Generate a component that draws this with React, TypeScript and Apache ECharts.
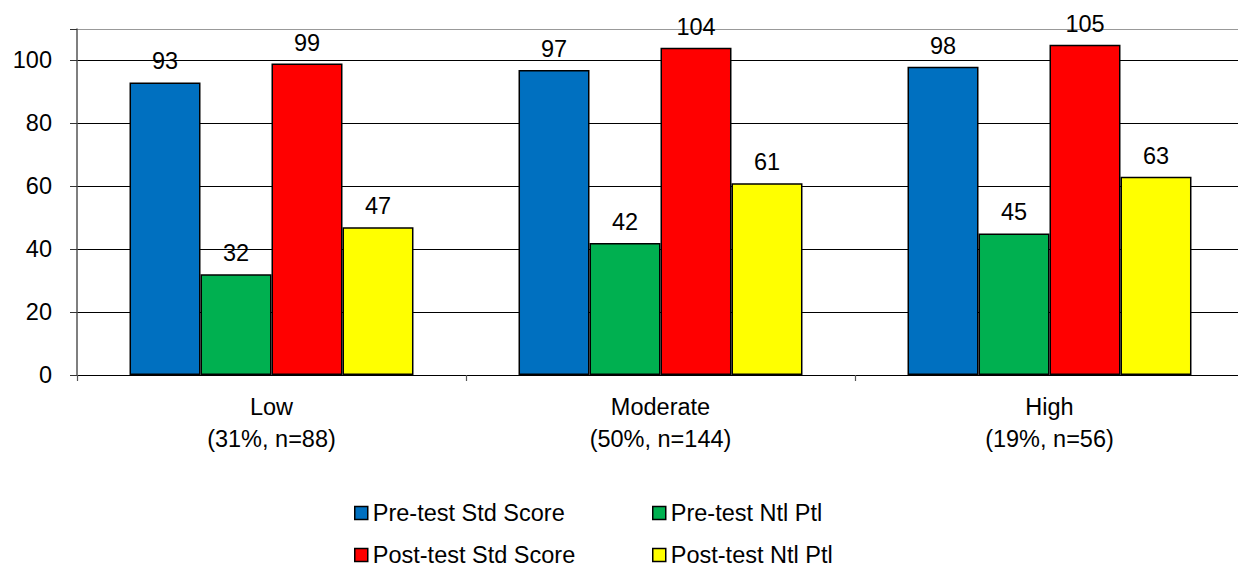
import React, { useEffect, useRef } from "react";
import * as echarts from "echarts";

const categories = ["Low\n(31%, n=88)", "Moderate\n(50%, n=144)", "High\n(19%, n=56)"];
const seriesNames = ["Pre-test Std Score", "Pre-test Ntl Ptl", "Post-test Std Score", "Post-test Ntl Ptl"];
const preStd = [93, 97, 98];
const preNtl = [32, 42, 45];
const postStd = [99, 104, 105];
const postNtl = [47, 61, 63];
const colors = ["#0070C0", "#00B050", "#FF0000", "#FFFF00"];
const yTicks = [0, 20, 40, 60, 80, 100];

const FONT = "'Liberation Sans', Arial, sans-serif";
const FS = 23.5;

export default function App() {
  const ref = useRef<HTMLDivElement>(null);
  useEffect(() => {
    if (!ref.current) return;
    const chart = echarts.init(ref.current, null, { renderer: "svg" });
    const values = [preStd, preNtl, postStd, postNtl];
    const legendPos = [
      { left: 349, top: 496 },
      { left: 647, top: 496 },
      { left: 349, top: 538 },
      { left: 647, top: 538 },
    ];
    chart.setOption({
      animation: false,
      textStyle: { fontFamily: FONT },
      grid: { left: 77, top: 29, right: 0, bottom: 194, containLabel: false },
      legend: seriesNames.map((n, i) => ({
        data: [n],
        left: legendPos[i].left,
        top: legendPos[i].top,
        icon: "rect",
        itemWidth: 13,
        itemHeight: 13,
        itemGap: 5,
        itemStyle: { borderColor: "#000", borderWidth: 1.5 },
        textStyle: { fontSize: FS, color: "#000", fontFamily: FONT },
        selectedMode: false,
      })),
      xAxis: {
        type: "category",
        data: categories,
        axisLine: { lineStyle: { color: "#000", width: 1.2 } },
        axisTick: { show: true, length: 6, lineStyle: { color: "#555", width: 1.2 } },
        axisLabel: { fontSize: FS, color: "#000", lineHeight: 32, margin: 16, fontFamily: FONT },
      },
      yAxis: {
        type: "value",
        min: 0,
        max: 110,
        interval: 20,
        axisLine: { show: true, lineStyle: { color: "#555", width: 1.5 } },
        axisTick: { show: true, length: 7, lineStyle: { color: "#333" } },
        axisLabel: {
          fontSize: FS,
          color: "#000",
          margin: 25,
          fontFamily: FONT,
          formatter: (v: number) => (yTicks.includes(v) ? String(v) : ""),
        },
        splitLine: {
          show: true,
          lineStyle: { color: ["#000", "#000", "#000", "#000", "#000", "#000", "#999"], width: 1.2 },
        },
      },
      series: seriesNames.map((n, i) => ({
        name: n,
        type: "bar",
        data: values[i],
        barGap: "0%",
        barCategoryGap: "27%",
        itemStyle: { color: colors[i], borderColor: "#000", borderWidth: 1.5 },
        label: { show: true, position: "top", distance: 9, fontSize: FS, color: "#000", fontFamily: FONT },
      })),
    });
    return () => chart.dispose();
  }, []);
  return (
    <div style={{ width: 1238, height: 569, position: "absolute", left: 0, top: 0, overflow: "hidden" }}>
      <div ref={ref} style={{ width: 1244, height: 569 }} />
    </div>
  );
}
